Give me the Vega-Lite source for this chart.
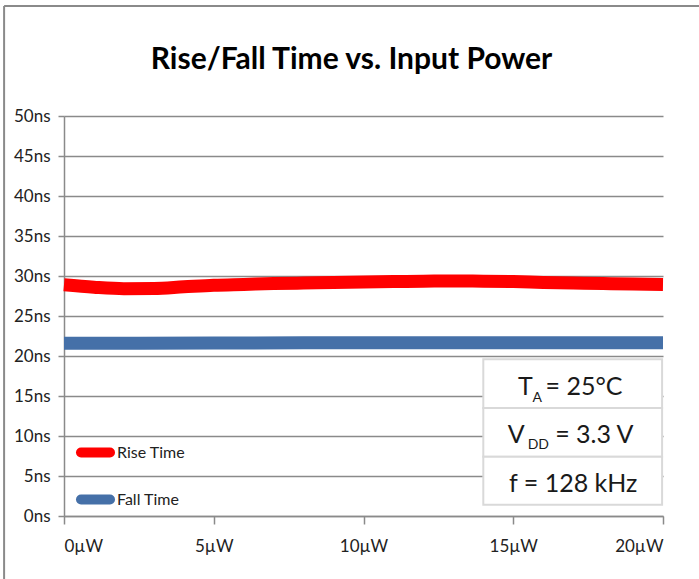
{
  "$schema": "https://vega.github.io/schema/vega-lite/v6.json",
  "width": 599,
  "height": 400,
  "autosize": {"type": "none"},
  "padding": {"left": 64, "top": 116, "right": 36, "bottom": 63},
  "background": "white",
  "config": {
    "view": {"stroke": null},
    "font": "Lato",
    "axis": {
      "title": null,
      "domainColor": "#8a8a8a",
      "domainWidth": 1.5,
      "tickColor": "#8a8a8a",
      "tickWidth": 1.5,
      "labelFont": "Lato",
      "labelFontSize": 17,
      "labelColor": "#222222",
      "labelOverlap": false
    },
    "axisX": {"grid": false, "tickSize": 8, "labelPadding": 14},
    "axisY": {"grid": true, "gridColor": "#8a8a8a", "gridWidth": 1.5, "tickSize": 6, "labelPadding": 8}
  },
  "title": {
    "text": "Rise/Fall Time vs. Input Power",
    "font": "Lato",
    "fontSize": 30,
    "fontWeight": "bold",
    "color": "#000000",
    "anchor": "middle",
    "frame": "group",
    "dx": -12,
    "offset": -70
  },
  "datasets": {
    "curves": [
      {"series": "Rise Time", "p": 0, "t": 28.9},
      {"series": "Rise Time", "p": 1, "t": 28.6},
      {"series": "Rise Time", "p": 2, "t": 28.42},
      {"series": "Rise Time", "p": 3, "t": 28.45},
      {"series": "Rise Time", "p": 4, "t": 28.65},
      {"series": "Rise Time", "p": 5, "t": 28.85},
      {"series": "Rise Time", "p": 6, "t": 28.95},
      {"series": "Rise Time", "p": 7, "t": 29.05},
      {"series": "Rise Time", "p": 8, "t": 29.12},
      {"series": "Rise Time", "p": 9, "t": 29.2},
      {"series": "Rise Time", "p": 10, "t": 29.25},
      {"series": "Rise Time", "p": 11, "t": 29.3},
      {"series": "Rise Time", "p": 12, "t": 29.35},
      {"series": "Rise Time", "p": 13, "t": 29.37},
      {"series": "Rise Time", "p": 14, "t": 29.35},
      {"series": "Rise Time", "p": 15, "t": 29.3},
      {"series": "Rise Time", "p": 16, "t": 29.2},
      {"series": "Rise Time", "p": 17, "t": 29.12},
      {"series": "Rise Time", "p": 18, "t": 29.05},
      {"series": "Rise Time", "p": 19, "t": 29.0},
      {"series": "Rise Time", "p": 20, "t": 28.95},
      {"series": "Fall Time", "p": 0, "t": 21.58},
      {"series": "Fall Time", "p": 5, "t": 21.62},
      {"series": "Fall Time", "p": 10, "t": 21.66},
      {"series": "Fall Time", "p": 15, "t": 21.66},
      {"series": "Fall Time", "p": 20, "t": 21.65}
    ],
    "box": [
      {"x1": 14.0, "x2": 19.97, "y1": 19.6, "y2": 13.5},
      {"x1": 14.0, "x2": 19.97, "y1": 13.5, "y2": 7.4},
      {"x1": 14.0, "x2": 19.97, "y1": 7.4, "y2": 1.4}
    ],
    "boxtext": [
      {"piece": "T", "role": "main", "x": 15.16, "y": 15.1},
      {"piece": "A", "role": "sub", "x": 15.64, "y": 14.25},
      {"piece": "= 25°C", "role": "main", "x": 16.08, "y": 15.1},
      {"piece": "V", "role": "main", "x": 14.82, "y": 9.1},
      {"piece": "DD", "role": "sub", "x": 15.48, "y": 8.4},
      {"piece": "= 3.3 V", "role": "main", "x": 16.4, "y": 9.1},
      {"piece": "f = 128 kHz", "role": "main", "x": 14.86, "y": 3.0}
    ],
    "frame": [
      {"x1": -2.0, "x2": 25, "y1": 63.75, "y2": 63.75},
      {"x1": -2.0, "x2": -2.0, "y1": 63.75, "y2": -12}
    ]
  },
  "layer": [
    {
      "data": {"name": "curves"},
      "mark": {"type": "line", "strokeWidth": 13, "interpolate": "monotone", "strokeCap": "butt"},
      "encoding": {
        "x": {
          "field": "p", "type": "quantitative",
          "scale": {"domain": [0, 20], "nice": false},
          "axis": {"values": [0, 5, 10, 15, 20], "labelExpr": "datum.value + 'µW'"}
        },
        "y": {
          "field": "t", "type": "quantitative",
          "scale": {"domain": [0, 50], "nice": false},
          "axis": {"values": [0, 5, 10, 15, 20, 25, 30, 35, 40, 45, 50], "labelExpr": "datum.value + 'ns'"}
        },
        "color": {
          "field": "series", "type": "nominal",
          "scale": {"domain": ["Rise Time", "Fall Time"], "range": ["#ff0000", "#4570a8"]},
          "legend": {
            "title": null,
            "orient": "none",
            "legendX": 12,
            "legendY": 317,
            "symbolType": "stroke",
            "symbolSize": 841,
            "symbolStrokeWidth": 10,
            "labelFont": "Lato",
            "labelFontSize": 16,
            "labelColor": "#222222",
            "labelOffset": 2,
            "rowPadding": 6,
            "padding": 0,
            "encode": {"symbols": {"update": {"strokeCap": {"value": "round"}}}}
          }
        }
      }
    },
    {
      "data": {"name": "box"},
      "mark": {"type": "rect", "fill": "white", "stroke": "#d9d9d9", "strokeWidth": 2},
      "encoding": {
        "x": {"field": "x1", "type": "quantitative", "axis": {"values": [0, 5, 10, 15, 20], "labelExpr": "datum.value + 'µW'"}},
        "x2": {"field": "x2"},
        "y": {"field": "y1", "type": "quantitative", "axis": {"values": [0, 5, 10, 15, 20, 25, 30, 35, 40, 45, 50], "labelExpr": "datum.value + 'ns'"}},
        "y2": {"field": "y2"}
      }
    },
    {
      "data": {"name": "boxtext"},
      "transform": [{"filter": "datum.role === 'main'"}],
      "mark": {"type": "text", "align": "left", "baseline": "alphabetic", "font": "Lato", "fontSize": 25, "color": "#1a1a1a"},
      "encoding": {
        "x": {"field": "x", "type": "quantitative", "axis": {"values": [0, 5, 10, 15, 20], "labelExpr": "datum.value + 'µW'"}},
        "y": {"field": "y", "type": "quantitative", "axis": {"values": [0, 5, 10, 15, 20, 25, 30, 35, 40, 45, 50], "labelExpr": "datum.value + 'ns'"}},
        "text": {"field": "piece"}
      }
    },
    {
      "data": {"name": "boxtext"},
      "transform": [{"filter": "datum.role === 'sub'"}],
      "mark": {"type": "text", "align": "left", "baseline": "alphabetic", "font": "Lato", "fontSize": 14, "color": "#1a1a1a"},
      "encoding": {
        "x": {"field": "x", "type": "quantitative", "axis": {"values": [0, 5, 10, 15, 20], "labelExpr": "datum.value + 'µW'"}},
        "y": {"field": "y", "type": "quantitative", "axis": {"values": [0, 5, 10, 15, 20, 25, 30, 35, 40, 45, 50], "labelExpr": "datum.value + 'ns'"}},
        "text": {"field": "piece"}
      }
    },
    {
      "data": {"name": "frame"},
      "mark": {"type": "rule", "color": "#8a8a8a", "strokeWidth": 2, "clip": false},
      "encoding": {
        "x": {"field": "x1", "type": "quantitative", "axis": {"values": [0, 5, 10, 15, 20], "labelExpr": "datum.value + 'µW'"}},
        "x2": {"field": "x2"},
        "y": {"field": "y1", "type": "quantitative", "axis": {"values": [0, 5, 10, 15, 20, 25, 30, 35, 40, 45, 50], "labelExpr": "datum.value + 'ns'"}},
        "y2": {"field": "y2"}
      }
    }
  ]
}
